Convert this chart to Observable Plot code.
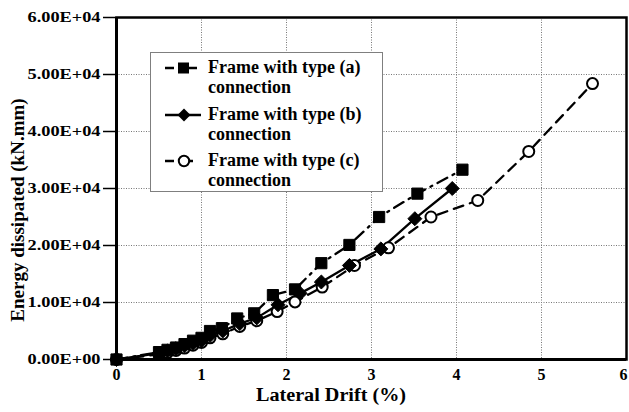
<!DOCTYPE html>
<html>
<head>
<meta charset="utf-8">
<script src="https://cdn.jsdelivr.net/npm/d3@7"></script>
<script src="https://cdn.jsdelivr.net/npm/@observablehq/plot@0.6"></script>
<style>
  html, body { margin: 0; padding: 0; background: white; }
  #wrap { position: relative; width: 629px; height: 412px; font-family: "Liberation Serif", "Times New Roman", serif; font-weight: bold; color: black; }
  .xtitle { position: absolute; left: 331px; top: 395px; font-size: 18px; line-height: 18px; white-space: nowrap; transform: translate(-50%, -50%) scaleX(1.12); }
  .ytitle { position: absolute; left: 17px; top: 210px; font-size: 19px; line-height: 19px; white-space: nowrap; transform: translate(-50%, -50%) rotate(-90deg); }
  .legend { position: absolute; left: 150px; top: 52px; width: 233px; height: 140px; border: 1.5px solid #7f7f7f; background: white; box-sizing: border-box; }
  .entry { position: absolute; left: 0; width: 232px; height: 40px; }
  .entry svg { position: absolute; left: 12px; top: 4px; }
  .entry .txt { position: absolute; left: 57px; top: 0; font-size: 18px; line-height: 20px; white-space: nowrap; }
</style>
</head>
<body>
<div id="wrap"></div>
<script>
// Series (a): Frame with type (a) connection
const driftA  = [0, 0.5, 0.6, 0.7, 0.8, 0.9, 1.0, 1.1, 1.24, 1.42, 1.62, 1.84, 2.1, 2.41, 2.74, 3.09, 3.54, 4.07];
const energyA = [0, 1300, 1700, 2100, 2700, 3300, 3800, 5000, 5500, 7200, 8100, 11300, 12300, 16900, 20100, 25000, 29100, 33300];
// Series (b): Frame with type (b) connection
const driftB  = [0, 0.5, 0.6, 0.7, 0.8, 0.9, 1.0, 1.1, 1.25, 1.45, 1.65, 1.9, 2.16, 2.41, 2.74, 3.11, 3.51, 3.95];
const energyB = [0, 1100, 1500, 1900, 2400, 2800, 3300, 4200, 5000, 6300, 7300, 9600, 11600, 13600, 16500, 19400, 24700, 30000];
// Series (c): Frame with type (c) connection
const driftC  = [0, 0.5, 0.6, 0.7, 0.8, 0.9, 1.0, 1.1, 1.25, 1.45, 1.65, 1.89, 2.1, 2.42, 2.8, 3.2, 3.7, 4.25, 4.85, 5.6];
const energyC = [0, 900, 1200, 1600, 2000, 2500, 3000, 3800, 4500, 5800, 6800, 8400, 10100, 12700, 16500, 19600, 25000, 27900, 36500, 48400];

const seriesNames = ["Frame with type (a)", "Frame with type (b)", "Frame with type (c)"];
const seriesSub = "connection";
const xTicks = [0, 1, 2, 3, 4, 5, 6];
const yTicks = [0, 10000, 20000, 30000, 40000, 50000, 60000];
const xTitle = "Lateral Drift (%)";
const yTitle = "Energy dissipated (kN.mm)";

const toRows = (xs, ys) => xs.map((x, i) => ({x, y: ys[i]}));
const A = toRows(driftA, energyA);
const B = toRows(driftB, energyB);
const C = toRows(driftC, energyC);

const fmtE = v => {
  if (v === 0) return "0.00E+00";
  const e = Math.floor(Math.log10(Math.abs(v)));
  const m = v / Math.pow(10, e);
  return m.toFixed(2) + "E" + (e < 0 ? "-" : "+") + String(Math.abs(e)).padStart(2, "0");
};

const chart = Plot.plot({
  width: 629,
  height: 412,
  marginLeft: 116,
  marginRight: 3,
  marginTop: 17,
  marginBottom: 53,
  style: {fontFamily: "'Liberation Serif', 'Times New Roman', serif", fontWeight: "bold", fontSize: "16px", background: "white", color: "black", overflow: "visible"},
  x: {domain: [0, 6]},
  y: {domain: [0, 60000]},
  marks: [
    Plot.gridX(xTicks.slice(1), {stroke: "#777", strokeOpacity: 1, strokeDasharray: "1,1.5", strokeWidth: 1}),
    Plot.gridY(yTicks.slice(1), {stroke: "#777", strokeOpacity: 1, strokeDasharray: "1,1.5", strokeWidth: 1}),
    Plot.axisX(xTicks.slice(0, -1), {tickSize: 0, tickPadding: 9, tickFormat: d => String(d), label: null, fontSize: 16}),
    Plot.axisX(xTicks.slice(-1), {tickSize: 0, tickPadding: 9, tickFormat: d => String(d), label: null, fontSize: 16, dx: -3}),
    Plot.axisY(yTicks, {tickSize: 13, tickPadding: 3, tickFormat: fmtE, label: null, fontSize: 15, strokeWidth: 1.5}),
    Plot.line(C, {x: "x", y: "y", stroke: "black", strokeWidth: 2.3, strokeDasharray: "10,7"}),
    Plot.line(A, {x: "x", y: "y", stroke: "black", strokeWidth: 2.3, strokeDasharray: "11,6,2,6"}),
    Plot.line(B, {x: "x", y: "y", stroke: "black", strokeWidth: 2.3}),
    Plot.dot(C, {x: "x", y: "y", symbol: "circle", r: 5.5, fill: "white", stroke: "black", strokeWidth: 2}),
    Plot.dot(B, {x: "x", y: "y", symbol: "diamond2", r: 6.3, fill: "black", stroke: "black", strokeWidth: 1}),
    Plot.dot(A, {x: "x", y: "y", symbol: "square", r: 6.3, fill: "black", stroke: "black", strokeWidth: 1}),
    Plot.frame({stroke: "black", strokeWidth: 2.5}),
    Plot.ruleX([0], {stroke: "black", strokeWidth: 3}),
    Plot.ruleY([0], {stroke: "black", strokeWidth: 3})
  ]
});

// widen the y tick labels a little to match the reference's stretched lettering
chart.querySelectorAll('g[aria-label="y-axis tick label"] text').forEach(t => {
  t.setAttribute("textLength", "73");
  t.setAttribute("lengthAdjust", "spacingAndGlyphs");
});

const wrap = document.getElementById("wrap");
wrap.appendChild(chart);

const xt = document.createElement("div");
xt.className = "xtitle";
xt.textContent = xTitle;
wrap.appendChild(xt);

const yt = document.createElement("div");
yt.className = "ytitle";
yt.textContent = yTitle;
wrap.appendChild(yt);

// Legend
const symbols = [
  `<svg width="40" height="14"><line x1="2" y1="7" x2="38" y2="7" stroke="black" stroke-width="2.5" stroke-dasharray="9,14"/><rect x="15" y="1.5" width="11" height="11" fill="black"/></svg>`,
  `<svg width="40" height="14"><line x1="2" y1="7" x2="38" y2="7" stroke="black" stroke-width="2.5"/><path d="M21,0.5 L27.5,7 L21,13.5 L14.5,7 Z" fill="black"/></svg>`,
  `<svg width="40" height="14"><line x1="2" y1="7" x2="30" y2="7" stroke="black" stroke-width="2.5" stroke-dasharray="9,10"/><circle cx="21" cy="7" r="5.2" fill="white" stroke="black" stroke-width="2"/></svg>`
];
const leg = document.createElement("div");
leg.className = "legend";
seriesNames.forEach((name, i) => {
  const e = document.createElement("div");
  e.className = "entry";
  e.style.top = (4 + i * 46.7) + "px";
  e.innerHTML = symbols[i] + `<div class="txt">${name}<br>${seriesSub}</div>`;
  leg.appendChild(e);
});
wrap.appendChild(leg);
</script>
</body>
</html>
